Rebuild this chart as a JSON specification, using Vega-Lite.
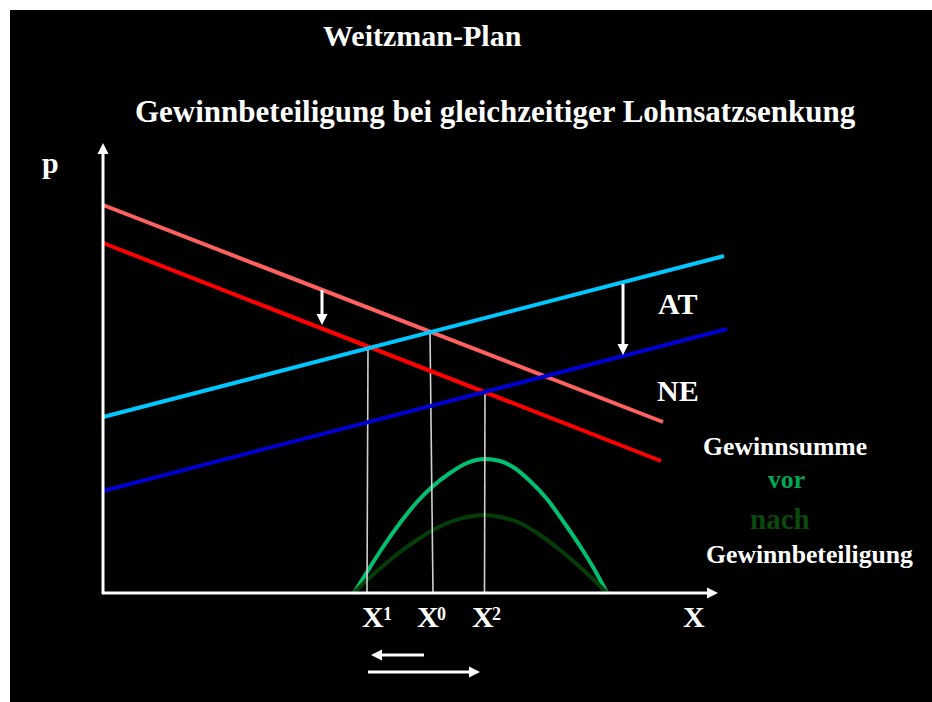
{
  "$schema": "https://vega.github.io/schema/vega-lite/v6.json",
  "width": 932,
  "height": 702,
  "autosize": {"type": "none"},
  "padding": 0,
  "background": "white",
  "config": {"view": {"stroke": null}},
  "resolve": {"scale": {"color": "independent", "shape": "independent"}},
  "datasets": {
    "panel": [{"x1": -93, "x2": 829, "p1": 583, "p2": -109}],
    "lines": [
      {"id": "N0", "x1": 0, "p1": 388, "x2": 560, "p2": 171},
      {"id": "N1", "x1": 0, "p1": 350, "x2": 558, "p2": 132},
      {"id": "AT", "x1": 0, "p1": 176, "x2": 621, "p2": 337},
      {"id": "NE", "x1": 0, "p1": 102, "x2": 624, "p2": 264}
    ],
    "drops": [
      {"id": "X1", "x1": 265, "p1": 246, "x2": 264, "p2": 0},
      {"id": "X0", "x1": 327, "p1": 261, "x2": 330, "p2": 0},
      {"id": "X2", "x1": 382, "p1": 200, "x2": 381.5, "p2": 0}
    ],
    "shafts": [
      {"id": "yaxis", "x1": 0, "p1": -1, "x2": 0, "p2": 441},
      {"id": "xaxis", "x1": -1, "p1": 0, "x2": 606, "p2": 0},
      {"id": "a1", "x1": 219, "p1": 303, "x2": 219, "p2": 278},
      {"id": "a2", "x1": 520, "p1": 309, "x2": 520, "p2": 248},
      {"id": "a3", "x1": 321, "p1": -62, "x2": 278, "p2": -62},
      {"id": "a4", "x1": 265, "p1": -79, "x2": 367, "p2": -79}
    ],
    "heads": [
      {"dir": "up", "x": 0, "p": 450},
      {"dir": "right", "x": 615, "p": 0},
      {"dir": "down", "x": 219, "p": 268},
      {"dir": "down", "x": 520, "p": 238},
      {"dir": "left", "x": 268, "p": -62},
      {"dir": "right", "x": 377, "p": -79}
    ],
    "curves": [
      {"curve": "vor", "x": 251, "p": 0},
      {"curve": "vor", "x": 264, "p": 21},
      {"curve": "vor", "x": 280, "p": 46},
      {"curve": "vor", "x": 297, "p": 70},
      {"curve": "vor", "x": 314, "p": 91},
      {"curve": "vor", "x": 329, "p": 106},
      {"curve": "vor", "x": 347, "p": 120},
      {"curve": "vor", "x": 364, "p": 130},
      {"curve": "vor", "x": 382, "p": 134},
      {"curve": "vor", "x": 397, "p": 132},
      {"curve": "vor", "x": 410, "p": 126},
      {"curve": "vor", "x": 427, "p": 112},
      {"curve": "vor", "x": 444, "p": 94},
      {"curve": "vor", "x": 460, "p": 72},
      {"curve": "vor", "x": 477, "p": 47},
      {"curve": "vor", "x": 494, "p": 19},
      {"curve": "vor", "x": 504, "p": 0},
      {"curve": "nach", "x": 251, "p": 0},
      {"curve": "nach", "x": 264, "p": 13},
      {"curve": "nach", "x": 280, "p": 27},
      {"curve": "nach", "x": 297, "p": 41},
      {"curve": "nach", "x": 314, "p": 53},
      {"curve": "nach", "x": 330, "p": 63},
      {"curve": "nach", "x": 347, "p": 71},
      {"curve": "nach", "x": 364, "p": 76},
      {"curve": "nach", "x": 382, "p": 78},
      {"curve": "nach", "x": 397, "p": 76},
      {"curve": "nach", "x": 417, "p": 70},
      {"curve": "nach", "x": 437, "p": 58},
      {"curve": "nach", "x": 457, "p": 43},
      {"curve": "nach", "x": 477, "p": 26},
      {"curve": "nach", "x": 494, "p": 10},
      {"curve": "nach", "x": 504, "p": 0}
    ],
    "labels": [
      {"t": "Weitzman-Plan", "x": 220, "p": 547, "k": "head"},
      {"t": "Gewinnbeteiligung bei gleichzeitiger Lohnsatzsenkung", "x": 32, "p": 471, "k": "sub"},
      {"t": "p", "x": -61, "p": 420, "k": "head"},
      {"t": "AT", "x": 555, "p": 279, "k": "head"},
      {"t": "NE", "x": 554, "p": 192, "k": "head"},
      {"t": "X", "x": 259, "p": -34, "k": "head"},
      {"t": "1", "x": 280, "p": -27, "k": "sup"},
      {"t": "X", "x": 314, "p": -34, "k": "head"},
      {"t": "0", "x": 334, "p": -27, "k": "sup"},
      {"t": "X", "x": 369, "p": -34, "k": "head"},
      {"t": "2", "x": 389, "p": -27, "k": "sup"},
      {"t": "X", "x": 580, "p": -34, "k": "head"},
      {"t": "Gewinnsumme", "x": 600, "p": 138, "k": "note"},
      {"t": "vor", "x": 665, "p": 105, "k": "vor"},
      {"t": "nach", "x": 647, "p": 64, "k": "nach"},
      {"t": "Gewinnbeteiligung", "x": 603, "p": 30, "k": "note"}
    ]
  },
  "layer": [
    {
      "data": {"name": "panel"},
      "mark": {"type": "rect", "fill": "black", "strokeWidth": 0},
      "encoding": {
        "x": {"field": "x1", "type": "quantitative", "scale": {"domain": [-103, 829], "nice": false, "zero": false}, "axis": null},
        "x2": {"field": "x2"},
        "y": {"field": "p1", "type": "quantitative", "scale": {"domain": [-109, 593], "nice": false, "zero": false}, "axis": null},
        "y2": {"field": "p2"}
      }
    },
    {
      "data": {"name": "curves"},
      "transform": [{"filter": {"field": "curve", "equal": "vor"}}],
      "mark": {"type": "line", "interpolate": "monotone", "strokeWidth": 4, "color": "#00C070"},
      "encoding": {
        "x": {"field": "x", "type": "quantitative"},
        "y": {"field": "p", "type": "quantitative"}
      }
    },
    {
      "data": {"name": "curves"},
      "transform": [{"filter": {"field": "curve", "equal": "nach"}}],
      "mark": {"type": "line", "interpolate": "monotone", "strokeWidth": 4, "color": "#053D08"},
      "encoding": {
        "x": {"field": "x", "type": "quantitative"},
        "y": {"field": "p", "type": "quantitative"}
      }
    },
    {
      "data": {"name": "drops"},
      "mark": {"type": "rule", "color": "#D0D0D0", "strokeWidth": 1.6},
      "encoding": {
        "x": {"field": "x1", "type": "quantitative"},
        "x2": {"field": "x2"},
        "y": {"field": "p1", "type": "quantitative"},
        "y2": {"field": "p2"}
      }
    },
    {
      "data": {"name": "lines"},
      "mark": {"type": "rule", "strokeWidth": 4},
      "encoding": {
        "x": {"field": "x1", "type": "quantitative"},
        "x2": {"field": "x2"},
        "y": {"field": "p1", "type": "quantitative"},
        "y2": {"field": "p2"},
        "color": {"field": "id", "type": "nominal", "scale": {"domain": ["N0", "N1", "AT", "NE"], "range": ["#FF6060", "#FF0000", "#00C8FF", "#0000D0"]}, "legend": null}
      }
    },
    {
      "data": {"name": "shafts"},
      "mark": {"type": "rule", "color": "white", "strokeWidth": 3},
      "encoding": {
        "x": {"field": "x1", "type": "quantitative"},
        "x2": {"field": "x2"},
        "y": {"field": "p1", "type": "quantitative"},
        "y2": {"field": "p2"}
      }
    },
    {
      "data": {"name": "heads"},
      "mark": {"type": "point", "filled": true, "fill": "white", "opacity": 1, "strokeWidth": 0, "size": 121},
      "encoding": {
        "x": {"field": "x", "type": "quantitative"},
        "y": {"field": "p", "type": "quantitative"},
        "shape": {"field": "dir", "type": "nominal", "scale": {"domain": ["up", "down", "left", "right"], "range": ["M0,0 L1,2 L-1,2 Z", "M0,0 L1,-2 L-1,-2 Z", "M0,0 L2,-1 L2,1 Z", "M0,0 L-2,-1 L-2,1 Z"]}, "legend": null}
      }
    },
    {
      "data": {"name": "labels"},
      "transform": [{"filter": {"field": "k", "equal": "head"}}],
      "mark": {"type": "text", "font": "Liberation Serif", "fontWeight": "bold", "align": "left", "baseline": "alphabetic", "fontSize": 30, "color": "white"},
      "encoding": {
        "x": {"field": "x", "type": "quantitative"},
        "y": {"field": "p", "type": "quantitative"},
        "text": {"field": "t"}
      }
    },
    {
      "data": {"name": "labels"},
      "transform": [{"filter": {"field": "k", "equal": "sub"}}],
      "mark": {"type": "text", "font": "Liberation Serif", "fontWeight": "bold", "align": "left", "baseline": "alphabetic", "fontSize": 31, "color": "white"},
      "encoding": {
        "x": {"field": "x", "type": "quantitative"},
        "y": {"field": "p", "type": "quantitative"},
        "text": {"field": "t"}
      }
    },
    {
      "data": {"name": "labels"},
      "transform": [{"filter": {"field": "k", "equal": "sup"}}],
      "mark": {"type": "text", "font": "Liberation Serif", "fontWeight": "bold", "align": "left", "baseline": "alphabetic", "fontSize": 18, "color": "white"},
      "encoding": {
        "x": {"field": "x", "type": "quantitative"},
        "y": {"field": "p", "type": "quantitative"},
        "text": {"field": "t"}
      }
    },
    {
      "data": {"name": "labels"},
      "transform": [{"filter": {"field": "k", "equal": "note"}}],
      "mark": {"type": "text", "font": "Liberation Serif", "fontWeight": "bold", "align": "left", "baseline": "alphabetic", "fontSize": 25.7, "color": "white"},
      "encoding": {
        "x": {"field": "x", "type": "quantitative"},
        "y": {"field": "p", "type": "quantitative"},
        "text": {"field": "t"}
      }
    },
    {
      "data": {"name": "labels"},
      "transform": [{"filter": {"field": "k", "equal": "vor"}}],
      "mark": {"type": "text", "font": "Liberation Serif", "fontWeight": "bold", "align": "left", "baseline": "alphabetic", "fontSize": 25.7, "color": "#00A651"},
      "encoding": {
        "x": {"field": "x", "type": "quantitative"},
        "y": {"field": "p", "type": "quantitative"},
        "text": {"field": "t"}
      }
    },
    {
      "data": {"name": "labels"},
      "transform": [{"filter": {"field": "k", "equal": "nach"}}],
      "mark": {"type": "text", "font": "Liberation Serif", "fontWeight": "bold", "align": "left", "baseline": "alphabetic", "fontSize": 29, "color": "#0A4A0F"},
      "encoding": {
        "x": {"field": "x", "type": "quantitative"},
        "y": {"field": "p", "type": "quantitative"},
        "text": {"field": "t"}
      }
    }
  ]
}
